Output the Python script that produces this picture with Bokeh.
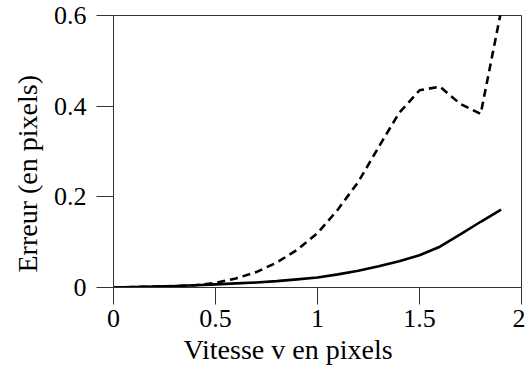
from bokeh.plotting import figure
from bokeh.models import Range1d, FixedTicker, Title
from bokeh.embed import file_html
from bokeh.resources import INLINE

# ---- data ----
vitesse = [0.0, 0.1, 0.2, 0.3, 0.4, 0.5, 0.6, 0.7, 0.8, 0.9, 1.0,
           1.1, 1.2, 1.3, 1.4, 1.5, 1.6, 1.7, 1.8, 1.9]
erreur_pleine = [0.0, 0.001, 0.002, 0.003, 0.005, 0.007, 0.009, 0.011, 0.014, 0.018, 0.022,
                 0.029, 0.037, 0.047, 0.058, 0.071, 0.090, 0.117, 0.145, 0.172]
erreur_tirets = [0.0, 0.001, 0.002, 0.003, 0.005, 0.010, 0.020, 0.034, 0.055, 0.083, 0.120,
                 0.172, 0.233, 0.310, 0.385, 0.435, 0.443, 0.405, 0.383, 0.610]

x_ticks = [0, 0.5, 1, 1.5, 2]
x_tick_labels = ["0", "0.5", "1", "1.5", "2"]
y_ticks = [0, 0.2, 0.4, 0.6]
y_tick_labels = ["0", "0.2", "0.4", "0.6"]
x_title = "Vitesse v en pixels"
y_title = "Erreur (en pixels)"

FONT = "'Liberation Serif', 'DejaVu Serif', serif"
FRAME = "#333333"

p = figure(width=525, height=372, output_backend="svg", toolbar_location=None,
           x_range=Range1d(0, 2), y_range=Range1d(0, 0.6),
           min_border_left=113, min_border_right=4, min_border_top=15, min_border_bottom=85)

p.background_fill_color = "white"
p.border_fill_color = "white"
p.outline_line_color = FRAME
p.outline_line_width = 1
p.grid.visible = False

for ax, ticks, labels in ((p.xaxis[0], x_ticks, x_tick_labels), (p.yaxis[0], y_ticks, y_tick_labels)):
    ax.ticker = FixedTicker(ticks=ticks)
    ax.major_label_overrides = {t: l for t, l in zip(ticks, labels)}
    ax.major_tick_in = 0
    ax.major_tick_out = 17
    ax.minor_tick_line_color = None
    ax.major_tick_line_color = FRAME
    ax.axis_line_color = FRAME
    ax.major_label_text_font = FONT
    ax.major_label_text_font_size = "26px"
    ax.major_label_text_color = "black"

p.xaxis.major_label_standoff = 5
p.yaxis.major_label_standoff = 10

p.line(vitesse, erreur_pleine, line_color="black", line_width=2.6)
p.line(vitesse, erreur_tirets, line_color="black", line_width=2.6, line_dash="8 5")

# axis titles as Title panels (offset to match reference positions)
p.add_layout(Title(text=x_title, align="left", offset=70, text_font=FONT,
                   text_font_size="28px", text_font_style="normal", text_color="black",
                   standoff=5), "below")
p.add_layout(Title(text=y_title, align="left", offset=15, text_font=FONT,
                   text_font_size="28px", text_font_style="normal", text_color="black",
                   standoff=16), "left")

open("out.html", "w").write(file_html(p, INLINE))
